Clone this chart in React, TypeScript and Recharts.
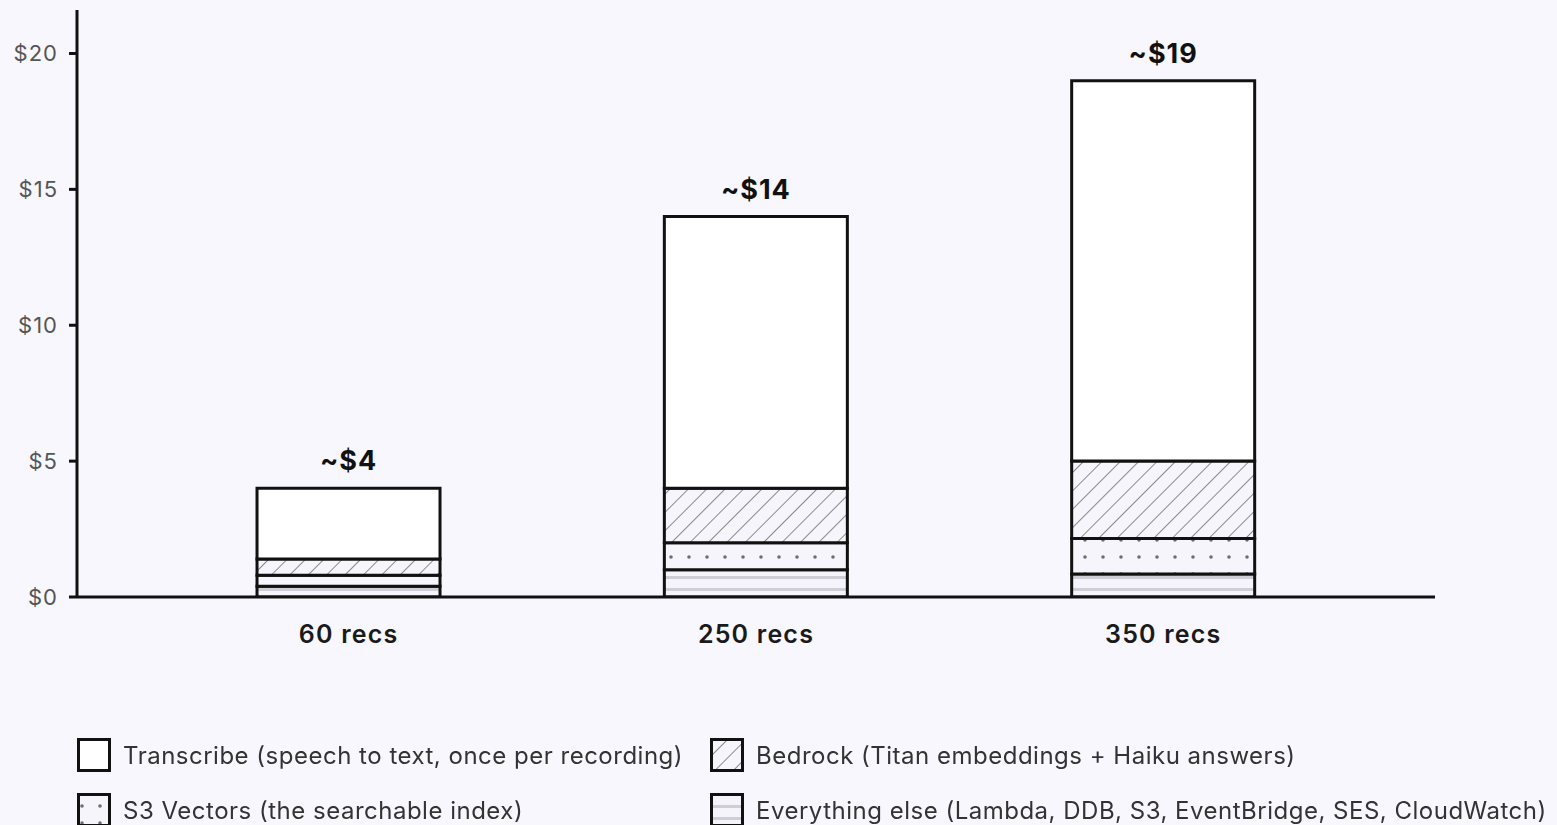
import React from 'react';
import { BarChart, Bar, XAxis, YAxis, Legend, LabelList } from 'recharts';

const categories = ['60 recs', '250 recs', '350 recs'];
const everythingElse = [0.4, 1.0, 0.85];
const s3Vectors = [0.4, 1.0, 1.3];
const bedrock = [0.6, 2.0, 2.85];
const transcribe = [2.6, 10.0, 14.0];
const totalLabels = ['~$4', '~$14', '~$19'];
const yTicks = [0, 5, 10, 15, 20];

const SERIES = [
  { key: 'other', name: 'Everything else (Lambda, DDB, S3, EventBridge, SES, CloudWatch)', fill: 'url(#patStripes)' },
  { key: 's3', name: 'S3 Vectors (the searchable index)', fill: 'url(#patDots)' },
  { key: 'bedrock', name: 'Bedrock (Titan embeddings + Haiku answers)', fill: 'url(#patHatch)' },
  { key: 'transcribe', name: 'Transcribe (speech to text, once per recording)', fill: '#ffffff' },
];

const data = categories.map((name, i) => ({
  name,
  other: everythingElse[i],
  s3: s3Vectors[i],
  bedrock: bedrock[i],
  transcribe: transcribe[i],
  total: totalLabels[i],
}));

const FONT = 'Inter, "Noto Sans", sans-serif';
const BG = '#f8f7fd';

// legend order: Transcribe, Bedrock / S3, Everything else
const LEGEND_ORDER = ['transcribe', 'bedrock', 's3', 'other'];

const Patterns = () => (
  <defs>
    <pattern id="patHatch" patternUnits="userSpaceOnUse" width="13" height="13" patternTransform="rotate(45)">
      <rect width="13" height="13" fill="#f6f5fb" />
      <line x1="0" y1="0" x2="0" y2="13" stroke="#8a8a8a" strokeWidth="2" />
    </pattern>
    <pattern id="patDots" patternUnits="userSpaceOnUse" width="18" height="17">
      <rect width="18" height="17" fill="#f6f5fb" />
      <circle cx="5" cy="13" r="1.8" fill="#6e6e6e" />
    </pattern>
    <pattern id="patStripes" patternUnits="userSpaceOnUse" width="10" height="12">
      <rect width="10" height="12" fill="#f5f4fa" />
      <rect y="0" width="10" height="3" fill="#cfced6" />
    </pattern>
  </defs>
);

const renderLegend = () => {
  const items = LEGEND_ORDER.map((k) => SERIES.find((s) => s.key === k)!);
  return (
    <div style={{ display: 'grid', gridTemplateColumns: '633px 850px', rowGap: 23, fontFamily: FONT }}>
      {items.map((s) => (
        <div key={s.key} style={{ display: 'flex', alignItems: 'center', height: 32 }}>
          <svg width={34} height={34} style={{ marginRight: 12, flexShrink: 0 }}>
            <rect x={1.5} y={1.5} width={31} height={31} fill={s.fill} stroke="#111" strokeWidth={3} />
          </svg>
          <span style={{ fontSize: 24, letterSpacing: 0.5, color: '#333', whiteSpace: 'nowrap' }}>{s.name}</span>
        </div>
      ))}
    </div>
  );
};

const TotalLabel = (props: any) => {
  const { x, y, width, value } = props;
  return (
    <text
      x={x + width / 2}
      y={y - 18}
      textAnchor="middle"
      fontFamily={FONT}
      fontSize={27}
      fontWeight={700}
      letterSpacing={1}
      fill="#111"
    >
      {value}
    </text>
  );
};

export default function App() {
  return (
    <div style={{ position: 'fixed', inset: 0, background: BG }}>
      <BarChart
        width={1557}
        height={825}
        data={data}
        margin={{ top: 10, right: 122, left: 0, bottom: 0 }}
        barCategoryGap="27.5%"
      >
        <Patterns />
        <XAxis
          dataKey="name"
          axisLine={{ stroke: '#111', strokeWidth: 3 }}
          tickLine={false}
          tickMargin={22}
          height={141}
          padding={{ left: 68, right: 68 }}
          tick={{ fill: '#1a1a1a', fontSize: 25, fontWeight: 600, fontFamily: FONT, letterSpacing: 1.2 }}
        />
        <YAxis
          width={77}
          domain={[0, 21.6]}
          ticks={yTicks}
          allowDataOverflow
          tickFormatter={(v: number) => `$${v}`}
          axisLine={{ stroke: '#111', strokeWidth: 3 }}
          tickLine={{ stroke: '#111', strokeWidth: 3 }}
          tickSize={8}
          tickMargin={11}
          tick={{ fill: '#555', fontSize: 22, fontFamily: FONT, letterSpacing: 1 }}
        />
        <Legend
          verticalAlign="bottom"
          content={renderLegend}
          wrapperStyle={{ left: 77, top: 739, width: 1480 }}
        />
        {SERIES.map((s) => (
          <Bar
            key={s.key}
            dataKey={s.key}
            name={s.name}
            stackId="a"
            fill={s.fill}
            stroke="#111"
            strokeWidth={3}
            isAnimationActive={false}
          >
            {s.key === 'transcribe' && <LabelList dataKey="total" content={TotalLabel} />}
          </Bar>
        ))}
      </BarChart>
    </div>
  );
}
